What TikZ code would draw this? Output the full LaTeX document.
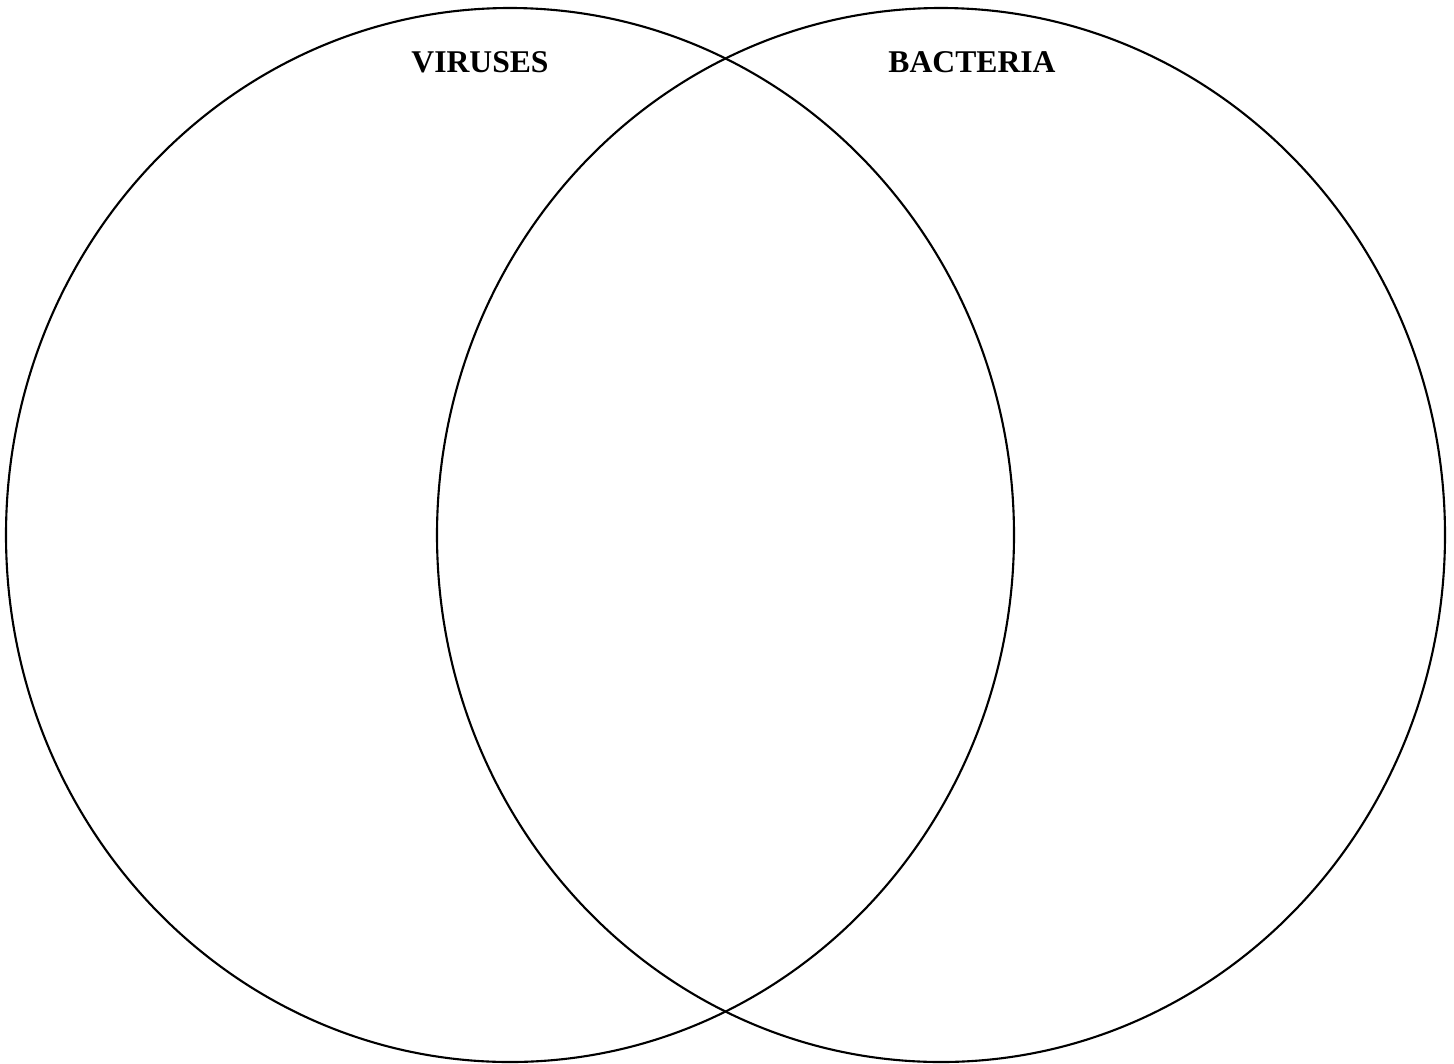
\documentclass[tikz,border=0pt]{standalone}
\usepackage{fontspec}
\setmainfont{Liberation Serif}
\usepackage{tikz}
\tikzset{
  setline/.style={draw=black,line width=0.6pt},
  setlabel/.style={font=\fontsize{9}{11}\selectfont\bfseries,inner sep=0pt},
}
\begin{document}
\begin{tikzpicture}[x=0.01cm,y=-0.01cm]
  \useasboundingbox (0,0) rectangle (1454,1063);
  % ── the two sets ──
  \draw[setline] (510,535) ellipse [x radius=504, y radius=527];
  \draw[setline] (941,535) ellipse [x radius=504, y radius=527];
  % ── set names ──
  \node[setlabel] (viruses)  at (480,62) {VIRUSES};
  \node[setlabel] (bacteria) at (972,62) {BACTERIA};
\end{tikzpicture}
\end{document}
